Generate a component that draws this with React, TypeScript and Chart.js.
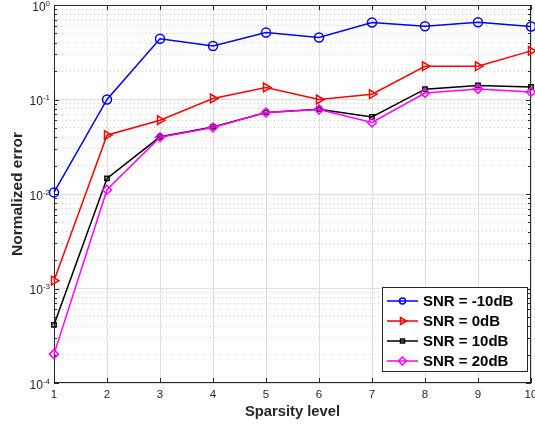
import React, { useEffect, useRef } from 'react';
import { Chart, registerables } from 'chart.js';

Chart.register(...registerables);

// ---- data ----
const sparsityLevels = [1, 2, 3, 4, 5, 6, 7, 8, 9, 10];
const snrMinus10 = [0.0104, 0.1, 0.44, 0.369, 0.512, 0.453, 0.653, 0.597, 0.658, 0.592];
const snr0 = [0.00121, 0.0419, 0.0604, 0.1025, 0.134, 0.1, 0.1138, 0.225, 0.225, 0.327];
const snr10 = [0.000413, 0.0146, 0.0403, 0.0513, 0.0729, 0.079, 0.0654, 0.1285, 0.1407, 0.136];
const snr20 = [0.000202, 0.0111, 0.0398, 0.0505, 0.0729, 0.0785, 0.0571, 0.117, 0.1295, 0.12];
const seriesLabels = ['SNR = -10dB', 'SNR = 0dB', 'SNR = 10dB', 'SNR = 20dB'];
const seriesColors = ['#0000ff', '#ff0000', '#000000', '#ff00ff'];
const yDecades = [1e-4, 1e-3, 1e-2, 1e-1, 1];
const yExponents = ['-4', '-3', '-2', '-1', '0'];
const xTickValues = [1, 2, 3, 4, 5, 6, 7, 8, 9, 10];
const xTitle = 'Sparsity level';
const yTitle = 'Normalized error';

const minorMultipliers = [2, 3, 4, 5, 6, 7, 8, 9];
const yMinorValues: number[] = [];
yDecades.slice(0, -1).forEach((d) => minorMultipliers.forEach((m) => yMinorValues.push(m * d)));

const AXIS_COLOR = '#262626';
const FONT = '"Liberation Sans", Arial, Helvetica, sans-serif';

type MarkerSpec = { style: string; r: number; rot: number };
const legendMarkers: MarkerSpec[] = [
  { style: 'circle', r: 3, rot: 0 },
  { style: 'triangle', r: 4, rot: 90 },
  { style: 'rect', r: 2, rot: 0 },
  { style: 'rectRot', r: 4, rot: 0 },
];

function drawMarker(ctx: CanvasRenderingContext2D, m: MarkerSpec, x: number, y: number) {
  ctx.beginPath();
  if (m.style === 'circle') {
    ctx.arc(x, y, m.r, 0, Math.PI * 2);
  } else if (m.style === 'triangle') {
    const a = (m.rot * Math.PI) / 180;
    for (let i = 0; i < 3; i++) {
      const ang = a - Math.PI / 2 + (i * 2 * Math.PI) / 3;
      const px = x + m.r * Math.cos(ang);
      const py = y + m.r * Math.sin(ang);
      if (i === 0) ctx.moveTo(px, py);
      else ctx.lineTo(px, py);
    }
    ctx.closePath();
  } else if (m.style === 'rect') {
    ctx.rect(x - m.r, y - m.r, m.r * 2, m.r * 2);
  } else if (m.style === 'rectRot') {
    ctx.moveTo(x, y - m.r);
    ctx.lineTo(x + m.r, y);
    ctx.lineTo(x, y + m.r);
    ctx.lineTo(x - m.r, y);
    ctx.closePath();
  }
  ctx.stroke();
}

const frameplugin = {
  id: 'matlabFrame',
  beforeDatasetsDraw(chart: any) {
    const { ctx, chartArea } = chart;
    const { left, right, top, bottom } = chartArea;
    const ys = chart.scales.y;
    const xs = chart.scales.x;
    ctx.save();
    ctx.strokeStyle = AXIS_COLOR;
    ctx.lineWidth = 1;
    ctx.strokeRect(Math.round(left) + 0.5, Math.round(top) + 0.5, Math.round(right - left) - 1, Math.round(bottom - top) - 1);
    ctx.beginPath();
    yDecades.forEach((v) => {
      const y = Math.round(ys.getPixelForValue(v)) + 0.5;
      ctx.moveTo(left, y); ctx.lineTo(left + 5, y);
      ctx.moveTo(right, y); ctx.lineTo(right - 5, y);
    });
    yMinorValues.forEach((v) => {
      const y = Math.round(ys.getPixelForValue(v)) + 0.5;
      ctx.moveTo(left, y); ctx.lineTo(left + 3, y);
      ctx.moveTo(right, y); ctx.lineTo(right - 3, y);
    });
    xTickValues.forEach((v) => {
      const x = Math.round(xs.getPixelForValue(v)) + 0.5;
      ctx.moveTo(x, bottom); ctx.lineTo(x, bottom - 5);
      ctx.moveTo(x, top); ctx.lineTo(x, top + 5);
    });
    ctx.stroke();

    // y tick labels: 10^n
    ctx.fillStyle = AXIS_COLOR;
    ctx.textBaseline = 'alphabetic';
    yDecades.forEach((v, i) => {
      const y = ys.getPixelForValue(v);
      const exp = yExponents[i];
      ctx.font = `8px ${FONT}`;
      const ew = ctx.measureText(exp).width;
      ctx.font = `12px ${FONT}`;
      const bw = ctx.measureText('10').width;
      const xEnd = left - 4;
      ctx.textAlign = 'left';
      ctx.fillText('10', xEnd - ew - bw, y + 5.5);
      ctx.font = `8px ${FONT}`;
      ctx.fillText(exp, xEnd - ew, y + 0.5);
    });
    ctx.restore();
  },
  afterDraw(chart: any) {
    const { ctx } = chart;
    ctx.save();
    const bx = 382.5, by = 287.5, bw = 145, bh = 84;
    ctx.fillStyle = '#ffffff';
    ctx.fillRect(bx, by, bw, bh);
    ctx.strokeStyle = AXIS_COLOR;
    ctx.lineWidth = 1;
    ctx.strokeRect(bx, by, bw, bh);
    seriesLabels.forEach((label, i) => {
      const y = 301 + i * 20;
      ctx.strokeStyle = seriesColors[i];
      ctx.lineWidth = 1.5;
      ctx.beginPath();
      ctx.moveTo(387, y);
      ctx.lineTo(418, y);
      ctx.stroke();
      drawMarker(ctx, legendMarkers[i], 402.5, y);
      ctx.fillStyle = '#000000';
      ctx.font = `bold 15px ${FONT}`;
      ctx.textAlign = 'left';
      ctx.textBaseline = 'middle';
      ctx.fillText(label, 423, y + 0.5);
    });
    ctx.restore();
  },
};

export default function App() {
  const canvasRef = useRef<HTMLCanvasElement | null>(null);

  useEffect(() => {
    if (!canvasRef.current) return;
    const allSeries = [snrMinus10, snr0, snr10, snr20];
    const pointStyles = ['circle', 'triangle', 'rect', 'rectRot'];
    const radii = [4.5, 5, 3, 4.5];
    const rotations = [0, 90, 0, 0];
    const chart = new Chart(canvasRef.current, {
      type: 'line',
      data: {
        labels: sparsityLevels,
        datasets: allSeries.map((s, i) => ({
          label: seriesLabels[i],
          data: s.map((v, j) => ({ x: sparsityLevels[j], y: v })),
          borderColor: seriesColors[i],
          backgroundColor: 'rgba(0,0,0,0)',
          pointBorderColor: seriesColors[i],
          pointBackgroundColor: 'rgba(0,0,0,0)',
          borderWidth: 1.5,
          pointBorderWidth: 1.5,
          pointStyle: pointStyles[i],
          pointRadius: radii[i],
          pointRotation: rotations[i],
          tension: 0,
          order: 4 - i,
          clip: false as any,
        })),
      },
      options: {
        animation: false,
        responsive: false,
        events: [],
        layout: { autoPadding: false, padding: { left: 0, top: 5, right: 4, bottom: 0 } },
        plugins: { legend: { display: false }, tooltip: { enabled: false } },
        scales: {
          x: {
            type: 'linear',
            min: 1,
            max: 10,
            afterBuildTicks: (scale: any) => {
              scale.ticks = xTickValues.map((v) => ({ value: v }));
            },
            afterFit: (scale: any) => {
              scale.height = 42;
              scale.paddingLeft = 0;
              scale.paddingRight = 0;
            },
            grid: { color: '#dfdfdf', lineWidth: 1, drawTicks: false },
            border: { display: false },
            ticks: {
              color: AXIS_COLOR,
              font: { family: FONT, size: 11.5 },
              padding: 5,
              maxRotation: 0,
              autoSkip: false,
            },
            title: {
              display: true,
              text: xTitle,
              color: AXIS_COLOR,
              font: { family: FONT, size: 14.75, weight: 'bold' },
              padding: { top: 0, bottom: 4 },
            },
          },
          yMinor: {
            type: 'logarithmic',
            position: 'left',
            min: 1e-4,
            max: 1,
            afterBuildTicks: (scale: any) => {
              scale.ticks = yMinorValues.map((v) => ({ value: v }));
            },
            afterFit: (scale: any) => {
              scale.width = 0;
              scale.paddingTop = 0;
              scale.paddingBottom = 0;
            },
            grid: { color: '#cfcfcf', lineWidth: 1, drawTicks: false },
            border: { display: false, dash: [1, 3] },
            ticks: { display: false },
          },
          y: {
            type: 'logarithmic',
            position: 'left',
            min: 1e-4,
            max: 1,
            afterBuildTicks: (scale: any) => {
              scale.ticks = yDecades.map((v) => ({ value: v, major: true }));
            },
            afterFit: (scale: any) => {
              scale.width = 54;
              scale.paddingTop = 0;
              scale.paddingBottom = 0;
            },
            grid: { color: '#dfdfdf', lineWidth: 1, drawTicks: false },
            border: { display: false },
            ticks: { display: false },
            title: {
              display: true,
              text: yTitle,
              color: AXIS_COLOR,
              font: { family: FONT, size: 15.5, weight: 'bold' },
              padding: { top: 8, bottom: 0 },
            },
          },
        },
      } as any,
      plugins: [frameplugin],
    });
    return () => chart.destroy();
  }, []);

  return (
    <div style={{ position: 'fixed', left: 0, top: 0, width: 535, height: 425, background: '#ffffff' }}>
      <canvas ref={canvasRef} width={535} height={425} style={{ display: 'block' }} />
    </div>
  );
}
